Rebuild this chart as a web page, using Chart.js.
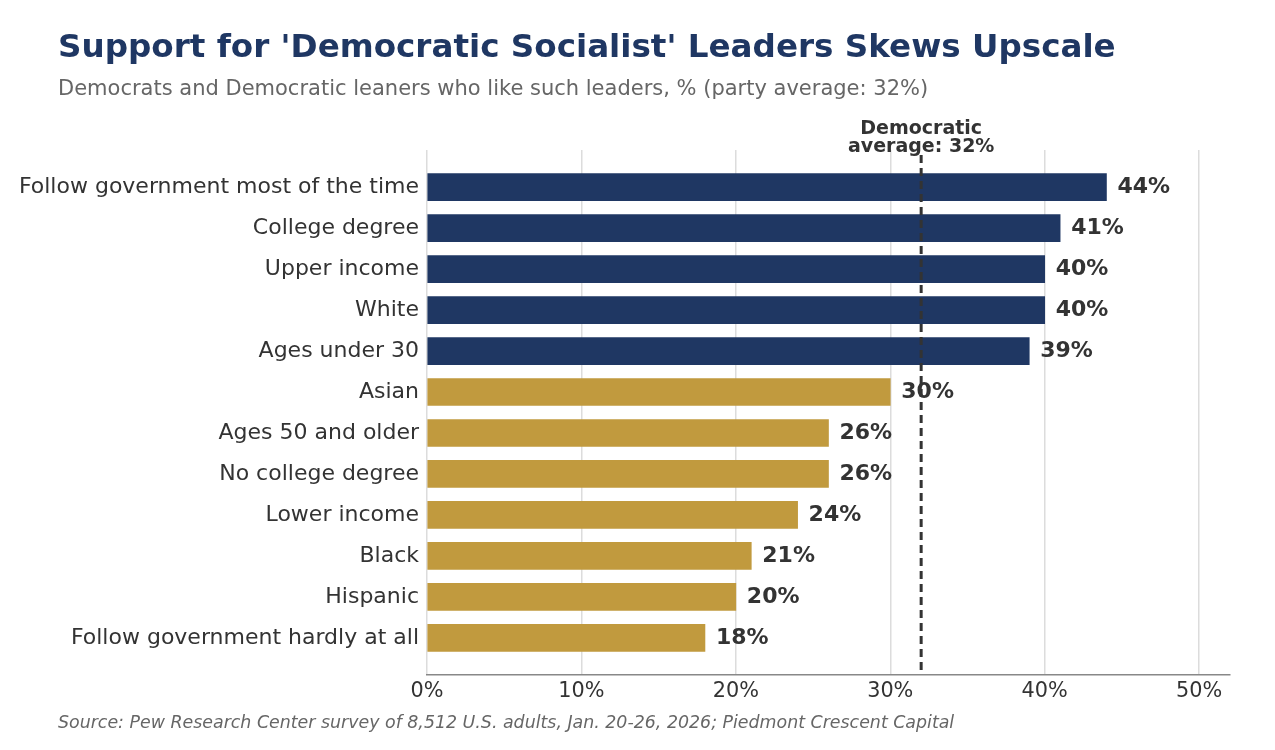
<!DOCTYPE html>
<html>
<head>
<meta charset="utf-8">
<script src="https://cdn.jsdelivr.net/npm/chart.js@4"></script>
<style>
  html, body { margin: 0; padding: 0; background: #fff; }
  #wrap { width: 1275px; height: 750px; position: relative; }
</style>
</head>
<body>
<div id="wrap"><canvas id="chart" width="1275" height="750"></canvas></div>
<script>
// data
const categories = [
  'Follow government most of the time',
  'College degree',
  'Upper income',
  'White',
  'Ages under 30',
  'Asian',
  'Ages 50 and older',
  'No college degree',
  'Lower income',
  'Black',
  'Hispanic',
  'Follow government hardly at all'
];
const shares = [44, 41, 40, 40, 39, 30, 26, 26, 24, 21, 20, 18];
const partyAverage = 32;
const xTicks = [0, 10, 20, 30, 40, 50];

const titleText = "Support for 'Democratic Socialist' Leaders Skews Upscale";
const subtitleText = 'Democrats and Democratic leaners who like such leaders, % (party average: 32%)';
const sourceText = 'Source: Pew Research Center survey of 8,512 U.S. adults, Jan. 20-26, 2026; Piedmont Crescent Capital';

const NAVY = '#1f3763';
const GOLD = '#c19a3e';
const FONT = "'DejaVu Sans', sans-serif";

// above average in navy, below in gold
const barColors = shares.map(v => v > partyAverage ? NAVY : GOLD);

// title, subtitle, source, average line and value labels
const decorPlugin = {
    id: 'decor',
    beforeDraw: (chart) => {
        const ctx = chart.ctx;
        ctx.save();
        ctx.fillStyle = '#fff';
        ctx.fillRect(0, 0, chart.width, chart.height);
        ctx.textAlign = 'left';
        ctx.textBaseline = 'alphabetic';
        ctx.fillStyle = NAVY;
        ctx.font = 'bold 32.6px ' + FONT;
        ctx.fillText(titleText, 58, 57);
        ctx.fillStyle = '#666';
        ctx.font = '21px ' + FONT;
        ctx.fillText(subtitleText, 58, 95);
        ctx.font = 'italic 17.4px ' + FONT;
        ctx.fillText(sourceText, 58, 728);
        ctx.restore();
    },
    afterDatasetsDraw: (chart) => {
        const ctx = chart.ctx;
        const x = chart.scales.x;
        const y = chart.scales.y;
        const area = chart.chartArea;
        ctx.save();

        // dashed average line
        const ax = x.getPixelForValue(partyAverage);
        ctx.strokeStyle = '#333';
        ctx.lineWidth = 3;
        ctx.setLineDash([8, 5]);
        ctx.beginPath();
        ctx.moveTo(ax, area.top + 5);
        ctx.lineTo(ax, area.bottom);
        ctx.stroke();
        ctx.setLineDash([]);

        ctx.fillStyle = '#333';
        ctx.font = 'bold 19px ' + FONT;
        ctx.textAlign = 'center';
        ctx.textBaseline = 'alphabetic';
        ctx.fillText('Democratic', ax, 134);
        ctx.fillText('average: 32%', ax, 152);

        // value labels
        ctx.font = 'bold 22px ' + FONT;
        ctx.textAlign = 'left';
        ctx.textBaseline = 'middle';
        shares.forEach((v, i) => {
            ctx.fillText(v + '%', x.getPixelForValue(v) + 11, y.getPixelForValue(i));
        });
        ctx.restore();
    }
};

const configuration = {
    type: 'bar',
    data: {
        datasets: [{
            data: shares.map((v, i) => ({ x: v, y: i })),
            backgroundColor: barColors,
            borderWidth: 0,
            barThickness: 27
        }]
    },
    options: {
        indexAxis: 'y',
        responsive: false,
        animation: false,
        layout: { padding: { top: 150, right: 45, left: 0, bottom: 0 } },
        plugins: {
            legend: { display: false },
            tooltip: { enabled: false }
        },
        scales: {
            x: {
                type: 'linear',
                min: 0,
                max: 52,
                afterBuildTicks: (scale) => {
                    scale.ticks = xTicks.map(v => ({ value: v }));
                },
                afterFit: (scale) => { scale.height = 75; },
                ticks: {
                    callback: (v) => v + '%',
                    color: '#333',
                    font: { family: FONT, size: 20.8 },
                    padding: 4
                },
                grid: {
                    color: '#dcdcdc',
                    lineWidth: 1.5,
                    drawTicks: false
                },
                border: { display: true, color: '#888', width: 1.5 }
            },
            y: {
                type: 'linear',
                offset: false,
                reverse: true,
                min: -0.9075,
                max: 11.9075,
                afterBuildTicks: (scale) => {
                    scale.ticks = categories.map((_, i) => ({ value: i }));
                },
                afterFit: (scale) => { scale.width = 427; },
                ticks: {
                    callback: (v) => categories[v],
                    color: '#333',
                    font: { family: FONT, size: 22 },
                    padding: 8
                },
                grid: { display: false, drawTicks: false },
                border: { display: false }
            }
        }
    },
    plugins: [decorPlugin]
};

new Chart(document.getElementById('chart'), configuration);
</script>
</body>
</html>
